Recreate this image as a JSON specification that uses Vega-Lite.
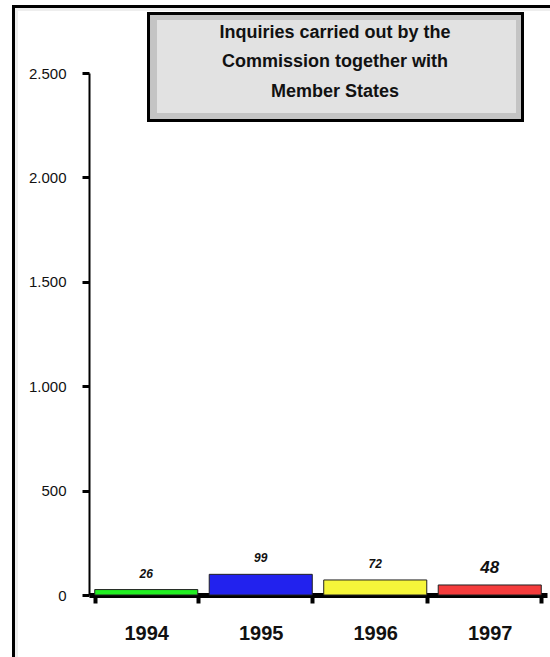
{
  "$schema": "https://vega.github.io/schema/vega-lite/v6.json",
  "width": 458,
  "height": 522,
  "autosize": "none",
  "padding": {"left": 89, "top": 73, "right": 3, "bottom": 62},
  "background": "white",
  "config": {"view": {"stroke": null}},
  "datasets": {
    "inquiries": [
      {"year": "1994", "value": 26},
      {"year": "1995", "value": 99},
      {"year": "1996", "value": 72},
      {"year": "1997", "value": 48}
    ]
  },
  "resolve": {"scale": {"x": "independent", "y": "independent"}},
  "layer": [
    {
      "data": {"values": [{}]},
      "layer": [
        {
          "mark": {"type": "rect", "filled": false, "stroke": "#eeeeee", "strokeWidth": 3},
          "encoding": {
            "x": {"datum": -0.633, "type": "quantitative", "scale": {"domain": [0, 4], "nice": false, "zero": false}, "axis": null},
            "x2": {"datum": 6},
            "y": {"datum": 2804.1, "type": "quantitative", "scale": {"domain": [0, 2500], "nice": false}, "axis": null},
            "y2": {"datum": -600}
          }
        },
        {
          "mark": {"type": "rect", "filled": false, "stroke": "black", "strokeWidth": 3},
          "encoding": {
            "x": {"datum": -0.6594, "type": "quantitative", "scale": {"domain": [0, 4], "nice": false, "zero": false}, "axis": null},
            "x2": {"datum": 6},
            "y": {"datum": 2818.5, "type": "quantitative", "scale": {"domain": [0, 2500], "nice": false}, "axis": null},
            "y2": {"datum": -600}
          }
        },
        {
          "mark": {"type": "rect", "fill": "#c4c4c4", "stroke": "black", "strokeWidth": 3},
          "encoding": {
            "x": {"datum": 0.5197, "type": "quantitative", "scale": {"domain": [0, 4], "nice": false, "zero": false}, "axis": null},
            "x2": {"datum": 3.786},
            "y": {"datum": 2785.0, "type": "quantitative", "scale": {"domain": [0, 2500], "nice": false}, "axis": null},
            "y2": {"datum": 2272.5}
          }
        },
        {
          "mark": {"type": "rect", "fill": "#e2e2e2"},
          "encoding": {
            "x": {"datum": 0.5939, "type": "quantitative", "scale": {"domain": [0, 4], "nice": false, "zero": false}, "axis": null},
            "x2": {"datum": 3.7293},
            "y": {"datum": 2753.8, "type": "quantitative", "scale": {"domain": [0, 2500], "nice": false}, "axis": null},
            "y2": {"datum": 2308.4}
          }
        },
        {
          "mark": {"type": "text", "font": "Liberation Sans", "fontSize": 18, "fontWeight": "bold", "color": "#111111", "align": "center", "baseline": "middle", "lineHeight": 29.5},
          "encoding": {
            "x": {"datum": 2.1485, "type": "quantitative", "scale": {"domain": [0, 4], "nice": false, "zero": false}, "axis": null},
            "y": {"datum": 2691.6, "type": "quantitative", "scale": {"domain": [0, 2500], "nice": false}, "axis": null},
            "text": {"value": ["Inquiries carried out by the", "Commission together with", "Member States"]}
          }
        }
      ]
    },
    {
      "data": {"name": "inquiries"},
      "encoding": {
        "x": {
          "field": "year",
          "type": "nominal",
          "scale": {"paddingInner": 0.1, "paddingOuter": 0.05},
          "axis": {
            "title": null,
            "labelAngle": 0,
            "domainWidth": 5,
            "domainColor": "black",
            "tickBand": "extent",
            "tickWidth": 4,
            "tickSize": 8,
            "tickColor": "black",
            "labelFont": "Liberation Sans",
            "labelFontSize": 20,
            "labelFontWeight": "bold",
            "labelColor": "#111111",
            "labelPadding": 20
          }
        },
        "y": {
          "field": "value",
          "type": "quantitative",
          "scale": {"domain": [0, 2500], "nice": false},
          "axis": {
            "title": null,
            "values": [0, 500, 1000, 1500, 2000, 2500],
            "labelExpr": "replace(format(datum.value, ','), ',', '.')",
            "grid": false,
            "domainWidth": 2,
            "domainColor": "black",
            "tickSize": 7,
            "tickWidth": 3,
            "tickColor": "black",
            "labelFont": "Liberation Sans",
            "labelFontSize": 15,
            "labelFontWeight": 500,
            "labelColor": "#111111",
            "labelPadding": 16
          }
        }
      },
      "layer": [
        {
          "mark": {"type": "bar", "stroke": "#222222", "strokeWidth": 1},
          "encoding": {
            "color": {
              "field": "year",
              "type": "nominal",
              "scale": {"domain": ["1994", "1995", "1996", "1997"], "range": ["#22ee22", "#2222ee", "#f6f63a", "#f43c3c"]},
              "legend": null
            }
          }
        },
        {
          "mark": {"type": "text", "font": "Liberation Sans", "fontStyle": "italic", "fontWeight": "bold", "baseline": "alphabetic", "align": "center", "dy": -12, "color": "#111111"},
          "encoding": {
            "text": {"field": "value", "type": "quantitative"},
            "size": {"condition": {"test": "datum.year === '1997'", "value": 17}, "value": 12}
          }
        }
      ]
    }
  ]
}
